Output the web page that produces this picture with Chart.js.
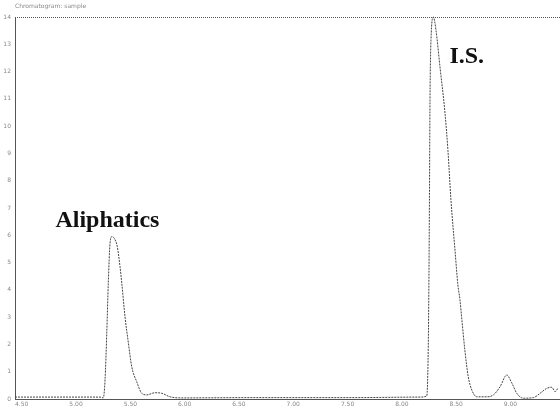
<!DOCTYPE html>
<html>
<head>
<meta charset="utf-8">
<script src="https://cdn.jsdelivr.net/npm/chart.js@4.4.1/dist/chart.umd.min.js"></script>
<style>
body{margin:0;background:#fff;}
#wrap{width:560px;height:410px;}
</style>
</head>
<body>
<div id="wrap"><canvas id="chrom" width="560" height="410"></canvas></div>
<script>
// retention time (min) and detector response
const times=[4.438,4.853,5.221,5.251,5.267,5.283,5.297,5.313,5.329,5.350,5.380,5.405,5.421,5.451,5.482,5.513,5.559,5.605,5.651,5.727,5.789,5.866,5.985,6.602,7.523,8.167,8.229,8.245,8.254,8.259,8.268,8.290,8.314,8.351,8.397,8.424,8.452,8.489,8.516,8.535,8.550,8.580,8.611,8.644,8.690,8.782,8.843,8.904,8.966,9.012,9.058,9.119,9.211,9.273,9.334,9.380,9.411,9.438];
const signal=[0.07,0.07,0.07,0.04,0.70,2.42,4.25,5.71,5.95,5.90,5.58,4.85,4.25,3.01,2.05,1.18,0.63,0.21,0.15,0.23,0.21,0.08,0.04,0.05,0.05,0.07,0.11,2.53,7.29,10.95,13.15,14.0,13.52,12.17,10.48,9.12,7.29,5.46,4.18,3.63,3.01,1.79,0.82,0.33,0.08,0.08,0.15,0.45,0.88,0.59,0.21,0.03,0.05,0.21,0.39,0.43,0.27,0.40];
const xTicks=[4.5,5.0,5.5,6.0,6.5,7.0,7.5,8.0,8.5,9.0];
const yTicks=[0,1,2,3,4,5,6,7,8,9,10,11,12,13,14];
const peakNames=["Aliphatics","I.S."];
const peakLabelAt=[[4.81,6.30],[8.438,12.30]];

let pts=times.map((t,i)=>({x:t,y:signal[i]}));

const extras={
id:"extras",
afterDraw(chart){
let c=chart.ctx, a=chart.chartArea, sx=chart.scales.x, sy=chart.scales.y;
c.save();
// top frame line
c.strokeStyle="#555";c.lineWidth=1;c.setLineDash([1,1]);
c.beginPath();c.moveTo(a.left,a.top+0.5);c.lineTo(a.right,a.top+0.5);c.stroke();
c.setLineDash([]);
// header
c.fillStyle="#888";c.font="6px 'DejaVu Sans'";c.textBaseline="alphabetic";
c.fillText("Chromatogram: sample",15,8);
// peak names
c.fillStyle="#111";c.font="bold 24px 'Liberation Serif'";
peakNames.forEach((n,i)=>{
c.fillText(n,sx.getPixelForValue(peakLabelAt[i][0]),sy.getPixelForValue(peakLabelAt[i][1]));
});
c.restore();
}
};

new Chart(document.getElementById("chrom"),{
type:"line",
data:{datasets:[{
data:pts,
borderColor:"#444",
borderWidth:1,
borderDash:[2,1],
pointRadius:0,
cubicInterpolationMode:"monotone",
fill:false
}]},
options:{
responsive:false,
animation:false,
clip:false,
layout:{padding:{top:17,right:0,bottom:0,left:0}},
plugins:{legend:{display:false},tooltip:{enabled:false}},
scales:{
x:{
type:"linear",
min:4.438,max:9.456,
afterBuildTicks(s){s.ticks=xTicks.map(v=>({value:v}));},
afterFit(s){s.height=11;},
grid:{display:false,drawTicks:false},
border:{display:true,color:"#555",dash:[1,1],width:1},
ticks:{padding:2,maxRotation:0,autoSkip:false,color:"#888",font:{size:6,family:"DejaVu Sans"},callback:v=>v.toFixed(2)}
},
y:{
min:0,max:14,
afterBuildTicks(s){s.ticks=yTicks.map(v=>({value:v}));},
afterFit(s){s.width=15;},
grid:{display:false,drawTicks:false},
border:{display:true,color:"#555",dash:[1,1],width:1},
ticks:{padding:4,color:"#888",font:{size:6,family:"DejaVu Sans"}}
}
}
},
plugins:[extras]
});
</script>
</body>
</html>
